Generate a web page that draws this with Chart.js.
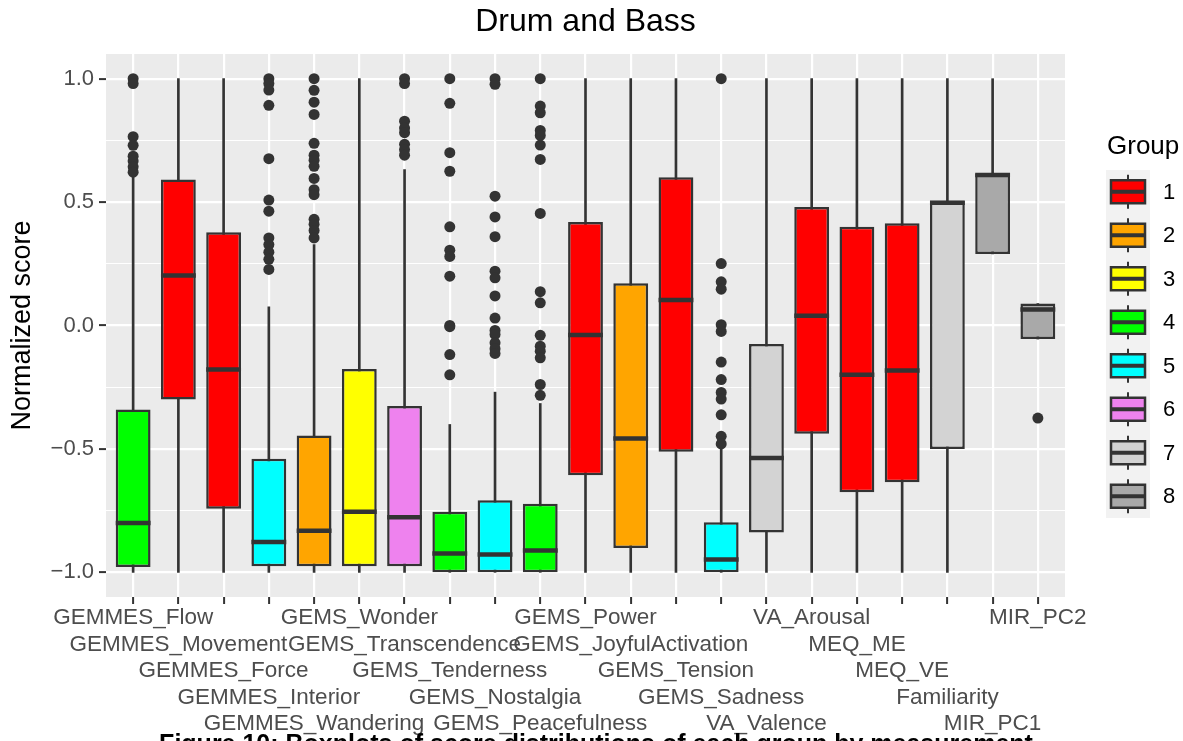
<!DOCTYPE html>
<html>
<head>
<meta charset="utf-8">
<script src="https://cdn.jsdelivr.net/npm/chart.js@4.4.1/dist/chart.umd.min.js"></script>
<style>
  html, body { margin: 0; padding: 0; background: #ffffff; overflow: hidden; }
  #wrap { width: 1183px; height: 741px; position: relative; }
</style>
</head>
<body>
<div id="wrap"><canvas id="chart" width="1183" height="741"></canvas></div>
<script>
// Measurement names, in axis order
const measures = [
  'GEMMES_Flow', 'GEMMES_Movement', 'GEMMES_Force', 'GEMMES_Interior', 'GEMMES_Wandering',
  'GEMS_Wonder', 'GEMS_Transcendence', 'GEMS_Tenderness', 'GEMS_Nostalgia', 'GEMS_Peacefulness',
  'GEMS_Power', 'GEMS_JoyfulActivation', 'GEMS_Tension', 'GEMS_Sadness', 'VA_Valence',
  'VA_Arousal', 'MEQ_ME', 'MEQ_VE', 'Familiarity', 'MIR_PC1', 'MIR_PC2'
];
// Group each measurement belongs to (1..8)
const groupOf = [4, 1, 1, 5, 2, 3, 6, 4, 5, 4, 1, 2, 1, 5, 7, 1, 1, 1, 7, 8, 8];

// Five-number summaries per measurement
const whiskerLow    = [-1, -1, -1, -1, -1, -1, -1, -1, -1, -1, -1, -1, -1, -1, -1, -1, -1, -1, -1, 0.29, -0.055];
const lowerQuartile = [-0.978, -0.30, -0.742, -0.975, -0.975, -0.975, -0.975, -1.0, -1.0, -1.0, -0.607, -0.901, -0.512, -1.0, -0.839, -0.439, -0.676, -0.635, -0.50, 0.29, -0.055];
const medianScore   = [-0.80, 0.203, -0.178, -0.877, -0.832, -0.755, -0.777, -0.924, -0.928, -0.912, -0.038, -0.458, 0.103, -0.948, -0.537, 0.04, -0.20, -0.182, 0.497, 0.61, 0.065];
const upperQuartile = [-0.34, 0.592, 0.378, -0.54, -0.446, -0.176, -0.326, -0.755, -0.708, -0.722, 0.419, 0.171, 0.601, -0.797, -0.075, 0.48, 0.40, 0.414, 0.505, 0.616, 0.089];
const whiskerHigh   = [0.60, 1, 1, 0.076, 0.328, 1, 0.632, -0.401, -0.27, -0.316, 1, 1, 1, -0.50, 1, 1, 1, 1, 1, 1, 0.089];

// Points beyond the whiskers
const outliers = [
  [1.0, 0.98, 0.765, 0.73, 0.686, 0.666, 0.643, 0.621],
  [], [],
  [1.0, 0.98, 0.954, 0.892, 0.676, 0.508, 0.463, 0.355, 0.328, 0.297, 0.268, 0.227],
  [1.0, 0.953, 0.905, 0.855, 0.738, 0.69, 0.67, 0.645, 0.596, 0.55, 0.53, 0.43, 0.41, 0.385, 0.355],
  [],
  [1.0, 0.98, 0.828, 0.80, 0.781, 0.734, 0.713, 0.69],
  [1.0, 0.90, 0.70, 0.625, 0.40, 0.305, 0.28, 0.20, 0.0, -0.005, -0.118, -0.20],
  [1.0, 0.977, 0.524, 0.44, 0.36, 0.22, 0.193, 0.12, 0.03, -0.02, -0.036, -0.07, -0.094, -0.113],
  [1.0, 0.889, 0.862, 0.79, 0.77, 0.731, 0.673, 0.454, 0.137, 0.092, -0.04, -0.084, -0.104, -0.131, -0.239, -0.283],
  [], [], [],
  [1.0, 0.251, 0.177, 0.147, 0.003, -0.024, -0.148, -0.219, -0.271, -0.298, -0.362, -0.449, -0.48],
  [], [], [], [], [], [],
  [-0.375]
];

const groupLabels = ['1', '2', '3', '4', '5', '6', '7', '8'];
const groupColors = ['#FF0000', '#FFA500', '#FFFF00', '#00FF00', '#00FFFF', '#EE82EE', '#D3D3D3', '#A9A9A9'];
const yTickValues = [-1, -0.75, -0.5, -0.25, 0, 0.25, 0.5, 0.75, 1];
const labelRows = 5;

const chartTitle = 'Drum and Bass';
const yTitle = 'Normalized score';
const legendTitle = 'Group';
const caption = 'Figure 10: Boxplots of score distributions of each group by measurement';

const INK = '#333333';
const BOX_FRACTION = 0.77;
const isMajor = v => Math.abs(v * 2 - Math.round(v * 2)) < 1e-6;

Chart.defaults.font.family = '"Liberation Sans", Arial, Helvetica, sans-serif';

// One floating-bar dataset per group: each box spans lower to upper quartile
const boxDatasets = groupLabels.map((g, gi) => ({
  type: 'bar',
  label: g,
  data: measures.map((m, i) => groupOf[i] === gi + 1 ? { x: i, y: [lowerQuartile[i], upperQuartile[i]] } : null).filter(Boolean),
  backgroundColor: groupColors[gi],
  borderColor: INK,
  borderWidth: 2.5,
  borderSkipped: false,
  grouped: false,
  categoryPercentage: 1,
  barPercentage: BOX_FRACTION,
  order: 5
}));

// Thin floating bars for the whiskers, drawn behind the boxes
const whiskerDataset = {
  type: 'bar',
  label: 'whiskers',
  data: measures.map((m, i) => ({ x: i, y: [whiskerLow[i], whiskerHigh[i]] })),
  backgroundColor: INK,
  borderWidth: 0,
  barThickness: 2,
  grouped: false,
  order: 10
};

const outlierDataset = {
  type: 'scatter',
  label: 'outliers',
  data: outliers.flatMap((vals, i) => vals.map(v => ({ x: i, y: v }))),
  backgroundColor: INK,
  borderWidth: 0,
  pointRadius: 5.5,
  pointHoverRadius: 5.5,
  order: 0
};

// Panel background
const panelPlugin = {
  id: 'panel',
  beforeDraw(chart) {
    const { ctx, chartArea: a } = chart;
    ctx.save();
    ctx.fillStyle = '#FFFFFF';
    ctx.fillRect(0, 0, chart.width, chart.height);
    ctx.fillStyle = '#EBEBEB';
    ctx.fillRect(a.left, a.top, a.right - a.left, a.bottom - a.top);
    ctx.restore();
  }
};

// Median bars on top of each box
const medianPlugin = {
  id: 'medians',
  afterDatasetsDraw(chart) {
    const { ctx, scales: { x, y } } = chart;
    const half = (x.getPixelForValue(1) - x.getPixelForValue(0)) * BOX_FRACTION / 2;
    ctx.save();
    ctx.strokeStyle = INK;
    ctx.lineWidth = 4.5;
    ctx.lineCap = 'butt';
    medianScore.forEach((m, i) => {
      const cx = x.getPixelForValue(i);
      const cy = y.getPixelForValue(m);
      ctx.beginPath();
      ctx.moveTo(cx - half, cy);
      ctx.lineTo(cx + half, cy);
      ctx.stroke();
    });
    ctx.restore();
  }
};

// Title, group key and caption
const decorPlugin = {
  id: 'decor',
  afterDraw(chart) {
    const { ctx, chartArea: a } = chart;
    ctx.save();
    // title centred over the panel
    ctx.fillStyle = '#000000';
    ctx.font = '32px "Liberation Sans", Arial, sans-serif';
    ctx.textAlign = 'center';
    ctx.textBaseline = 'middle';
    ctx.fillText(chartTitle, (a.left + a.right) / 2, 22);

    // group key
    const keyLeft = a.right + 41, keyTop = 170, keyW = 44, keyH = 43.5;
    ctx.textAlign = 'left';
    ctx.font = '26px "Liberation Sans", Arial, sans-serif';
    ctx.fillText(legendTitle, keyLeft + 1, 147);
    ctx.fillStyle = '#F2F2F2';
    ctx.fillRect(keyLeft, keyTop, keyW, keyH * groupLabels.length);
    ctx.font = '22px "Liberation Sans", Arial, sans-serif';
    groupLabels.forEach((g, gi) => {
      const cy = keyTop + keyH * (gi + 0.5);
      const cx = keyLeft + keyW / 2;
      ctx.strokeStyle = INK;
      ctx.lineWidth = 2;
      ctx.beginPath();
      ctx.moveTo(cx, cy - 17); ctx.lineTo(cx, cy + 17);
      ctx.stroke();
      ctx.fillStyle = groupColors[gi];
      ctx.lineWidth = 2.5;
      ctx.fillRect(cx - 17, cy - 11.5, 34, 23);
      ctx.strokeRect(cx - 17, cy - 11.5, 34, 23);
      ctx.lineWidth = 4;
      ctx.beginPath();
      ctx.moveTo(cx - 17, cy); ctx.lineTo(cx + 17, cy);
      ctx.stroke();
      ctx.fillStyle = '#000000';
      ctx.fillText(g, keyLeft + 57, cy + 1);
    });

    // caption, partly below the bottom edge
    ctx.font = 'bold 25px "Liberation Sans", Arial, sans-serif';
    ctx.textAlign = 'center';
    ctx.textBaseline = 'alphabetic';
    ctx.fillText(caption, 596, 752);
    ctx.restore();
  }
};

new Chart(document.getElementById('chart'), {
  type: 'bar',
  data: { datasets: [outlierDataset, ...boxDatasets, whiskerDataset] },
  plugins: [panelPlugin, medianPlugin, decorPlugin],
  options: {
    responsive: false,
    animation: false,
    events: [],
    layout: { padding: { top: 54, right: 118, bottom: 0, left: 0 } },
    plugins: {
      legend: { display: false },
      title: { display: false },
      tooltip: { enabled: false }
    },
    scales: {
      x: {
        type: 'linear',
        min: -0.6,
        max: 20.6,
        offset: false,
        afterBuildTicks: s => { s.ticks = measures.map((m, i) => ({ value: i })); },
        afterFit: s => { s.height = 144; s.paddingLeft = 0; s.paddingRight = 0; },
        border: { display: false },
        grid: { offset: false, color: '#FFFFFF', lineWidth: 2.2, tickColor: INK, tickLength: 7, tickWidth: 2 },
        ticks: {
          autoSkip: false,
          maxRotation: 0,
          minRotation: 0,
          padding: 1,
          color: '#4D4D4D',
          font: { size: 22.5, lineHeight: 26.5 / 22.5 },
          callback: v => {
            const i = Math.round(v);
            return Array(i % labelRows).fill('').concat(measures[i]);
          }
        }
      },
      y: {
        min: -1.1,
        max: 1.1,
        afterBuildTicks: s => { s.ticks = yTickValues.map(v => ({ value: v })); },
        afterFit: s => { s.width = 106; s.paddingTop = 0; s.paddingBottom = 0; },
        border: { display: false },
        grid: {
          color: '#FFFFFF',
          lineWidth: c => (c.tick && !isMajor(c.tick.value)) ? 1.1 : 2.2,
          tickColor: c => (c.tick && !isMajor(c.tick.value)) ? 'rgba(0,0,0,0)' : INK,
          tickLength: 7,
          tickWidth: 2
        },
        ticks: {
          color: '#4D4D4D',
          padding: 5,
          font: { size: 22 },
          callback: v => isMajor(v) ? v.toFixed(1).replace('-', '\u2212') : ''
        },
        title: {
          display: true,
          text: yTitle,
          color: '#000000',
          font: { size: 27 },
          padding: { top: 6, bottom: 0 }
        }
      }
    }
  }
});
</script>
</body>
</html>
